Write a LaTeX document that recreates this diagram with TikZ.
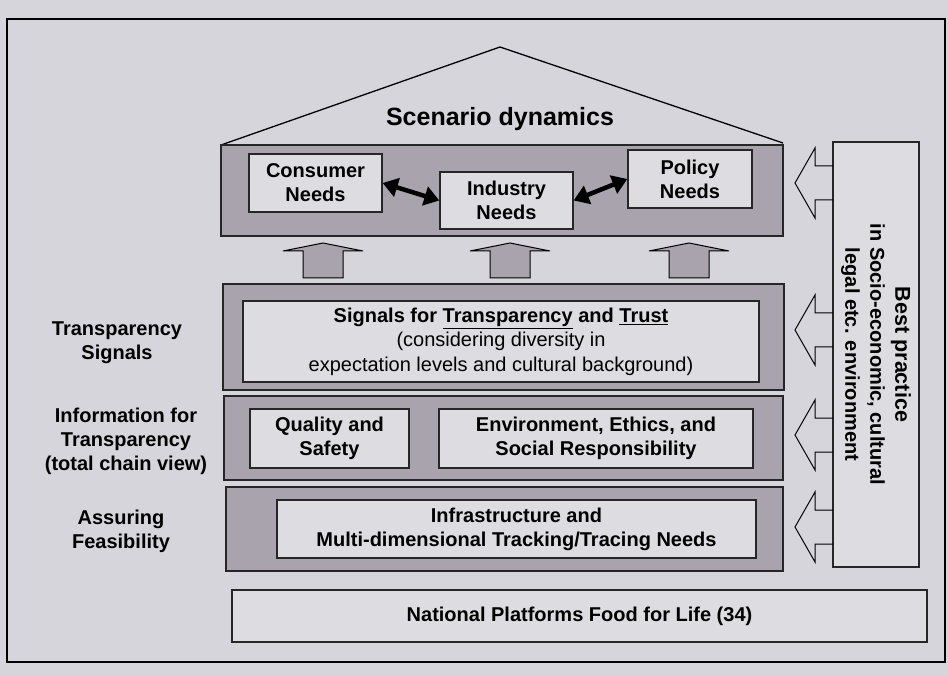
\documentclass[tikz,border=0pt]{standalone}
\usepackage{fontspec}
\setmainfont{Liberation Sans}
\usetikzlibrary{arrows.meta}
\definecolor{paper}{RGB}{214,213,219}
\definecolor{band}{RGB}{168,163,172}
\definecolor{card}{RGB}{221,220,225}
\tikzset{
  layer/.style={draw=black!85, fill=band, line width=1.4pt},
  card/.style={draw=black!85, fill=card, line width=1.3pt, align=center, inner sep=0pt,
    font=\fontsize{20}{24}\selectfont\bfseries},
  side/.style={align=center, font=\fontsize{20}{24}\selectfont\bfseries},
  pair/.style={{Triangle[length=15pt,width=19pt]}-{Triangle[length=15pt,width=19pt]}, line width=4.5pt},
}

\begin{document}
\begin{tikzpicture}[x=1pt, y=-1pt, line width=1pt]
  \fill[paper] (0,0) rectangle (948,676);
  \useasboundingbox (0,0) rectangle (948,676);
  \draw[line width=2.2pt] (7,19) rectangle (945,662);

  % roof and needs
  \draw[line width=1.3pt] (221,145) -- (500,47) -- (783,143);
  \draw[layer] (221,145) rectangle (783,236);
  \node[font=\fontsize{25}{30}\selectfont\bfseries] (title) at (500,119) {Scenario dynamics};
  \node[card, minimum width=133, minimum height=58] (cons) at (315.5,183) {Consumer\\Needs};
  \node[card, minimum width=133, minimum height=57] (ind) at (506.5,200.5) {Industry\\Needs};
  \node[card, minimum width=124, minimum height=58] (pol) at (690,179) {Policy\\Needs};
  \draw[pair] (cons.east) -- (ind.west);
  \draw[pair] (ind.east) -- (pol.west);

  \foreach \x in {323,510,689}
    \draw[fill=band] (\x-20,278) -- (\x-20,251) -- (\x-40,251) -- (\x,243)
      -- (\x+40,251) -- (\x+20,251) -- (\x+20,278) -- cycle;

  % layers
  \draw[layer] (223,284) rectangle (784,390);
  \node[card, minimum width=516, minimum height=81, font=\fontsize{20}{24.5}\selectfont] (sigbox) at (501,341.5)
    {\textbf{Signals for \underline{Transparency} and \underline{Trust}}\\(considering diversity in\\expectation levels and cultural background)};
  \draw[layer] (224,396) rectangle (783,480);
  \node[card, minimum width=159, minimum height=59] (qual) at (329.5,438.5) {Quality and\\Safety};
  \node[card, minimum width=314, minimum height=59] (env) at (596,438.5) {Environment, Ethics, and\\Social Responsibility};
  \draw[layer] (226,487) rectangle (783,571);
  \node[card, minimum width=479, minimum height=58] (infra) at (516.5,529)
    {Infrastructure and\\Multi-dimensional Tracking/Tracing Needs};
  \node[card, minimum width=695, minimum height=52] (nat) at (579.5,616) {National Platforms Food for Life (34)};

  \node[side] (sig) at (117,343) {Transparency\\Signals};
  \node[side] (info) at (126,441) {Information for\\Transparency\\(total chain view)};
  \node[side] (feas) at (121,531) {Assuring\\Feasibility};

  % best practice column
  \node[card, rotate=-90, minimum width=425, minimum height=86, font=\fontsize{20}{25}\selectfont\bfseries] (best) at (876,354.5)
    {{\fontsize{21.5}{25}\selectfont Best practice}\\in Socio-economic, cultural\\legal etc. environment};
  \foreach \y in {183,330,435,527}
    \draw (833,\y-17) -- (815,\y-17) -- (815,\y-35) -- (795,\y)
      -- (815,\y+35) -- (815,\y+17) -- (833,\y+17);
\end{tikzpicture}
\end{document}
